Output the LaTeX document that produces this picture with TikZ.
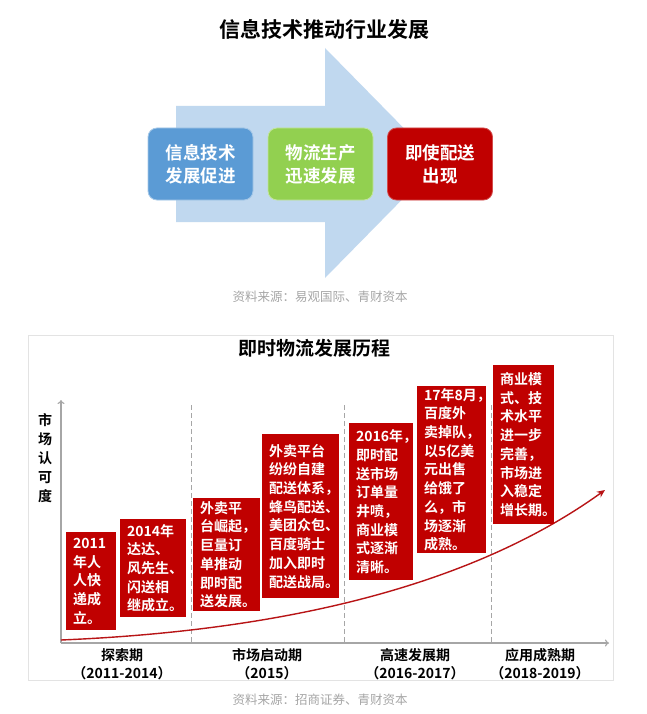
\documentclass[tikz,border=0pt]{standalone}
\usepackage{fontspec}
\setmainfont{Noto Sans CJK SC}[BoldFont={Noto Sans CJK SC Bold}]
\usetikzlibrary{arrows.meta}
\definecolor{arrowblue}{HTML}{C0D8EF}
\definecolor{boxblue}{HTML}{5B9BD5}
\definecolor{boxgreen}{HTML}{92D050}
\definecolor{boxred}{HTML}{C00000}
\definecolor{srcgray}{HTML}{A6A6A6}
\definecolor{axisgray}{HTML}{A6A6A6}
\definecolor{framegray}{HTML}{E3E3E3}
\definecolor{curvered}{HTML}{B81416}
\begin{document}
\begin{tikzpicture}[x=1pt,y=-1pt,
  tbox/.style={rounded corners=9pt, minimum width=105pt, minimum height=72pt, inner sep=0pt,
    align=center, text=white, font=\bfseries\fontsize{17.5}{23}\selectfont, line width=0.8pt},
  rbox/.style={fill=boxred, text=white, anchor=north west, align=left, inner xsep=7pt, inner ysep=0pt,
    font=\bfseries\fontsize{14}{18.7}\selectfont},
  src/.style={text=srcgray, font=\fontsize{12.5}{15}\selectfont},
  ttl/.style={font=\bfseries\fontsize{20}{24}\selectfont},
  xlab/.style={align=center, font=\bfseries\fontsize{14}{18}\selectfont},
  axis/.style={draw=axisgray, line width=1.1pt, -{To[length=4pt,width=7pt]}},
  sep/.style={draw=axisgray, line width=0.9pt, dash pattern=on 5pt off 3pt}
]
\useasboundingbox (0,0) rectangle (647,714);
\fill[white] (0,0) rectangle (647,714);

% ---------- top part ----------
\node[ttl, font=\bfseries\fontsize{21}{24}\selectfont] (t1) at (324,29) {信息技术推动行业发展};
\fill[arrowblue] (176,106) -- (325,106) -- (325,48) -- (438,163) -- (325,278) -- (325,222) -- (176,222) -- cycle;
\node[tbox, fill=boxblue, draw=boxblue!55!white] (a1) at (200.5,164) {信息技术\\发展促进};
\node[tbox, fill=boxgreen, draw=boxgreen!55!white] (a2) at (320.5,164) {物流生产\\迅速发展};
\node[tbox, fill=boxred, draw=boxred!70!white] (a3) at (440,164) {即使配送\\出现};
\node[src] (s1) at (320,297) {资料来源：易观国际、青财资本};

% ---------- bottom part ----------
\draw[framegray, line width=0.8pt] (28,335) rectangle (613,680);
\node[ttl, font=\bfseries\fontsize{19}{22}\selectfont] (t2) at (314,348) {即时物流发展历程};

\coordinate (o) at (61,643);
\coordinate (yt) at (61,400);
\coordinate (xt) at (609,643);
\draw[axis] (o) -- (yt);
\draw[axis] (o) -- (xt);

\coordinate (d1t) at (191,405); \coordinate (d1b) at (191,643);
\coordinate (d2t) at (344,405); \coordinate (d2b) at (344,643);
\coordinate (d3t) at (491,405); \coordinate (d3b) at (491,643);
\draw[sep] (d1t) -- (d1b);
\draw[sep] (d2t) -- (d2b);
\draw[sep] (d3t) -- (d3b);

\node[align=center, font=\bfseries\fontsize{14}{18.8}\selectfont] (ylab) at (45,458) {市\\场\\认\\可\\度};

\coordinate (c0) at (61,640);
\coordinate (c1) at (605,490);
\draw[curvered, line width=1.4pt, -{Stealth[length=8pt,width=7pt]}] (c0) .. controls (300,630) and (480,580) .. (c1);

\node[rbox, text width=36pt, minimum height=98pt] (b1) at (66,532) {2011\\年人\\人快\\递成\\立。};
\node[rbox, text width=52pt, minimum height=98pt] (b2) at (120,519) {2014年\\达达、\\风先生、\\闪送相\\继成立。};
\node[rbox, text width=53pt, minimum height=113pt] (b3) at (193,498) {外卖平\\台崛起，\\巨量订\\单推动\\即时配\\送发展。};
\node[rbox, text width=63pt, minimum height=164pt] (b4) at (262,434) {外卖平台\\纷纷自建\\配送体系，\\蜂鸟配送、\\美团众包、\\百度骑士\\加入即时\\配送战局。};
\node[rbox, text width=50pt, minimum height=157pt] (b5) at (349,423) {2016年，\\即时配\\送市场\\订单量\\井喷，\\商业模\\式逐渐\\清晰。};
\node[rbox, text width=55pt, minimum height=167pt] (b6) at (417,386) {17年8月，\\百度外\\卖掉队，\\以5亿美\\元出售\\给饿了\\么，市\\场逐渐\\成熟。};
\node[rbox, text width=47pt, minimum height=159pt] (b7) at (493,365) {商业模\\式、技\\术水平\\进一步\\完善，\\市场进\\入稳定\\增长期。};

\node[xlab] (x1) at (122,664) {探索期\\（2011-2014）};
\node[xlab] (x2) at (267,664) {市场启动期\\（2015）};
\node[xlab] (x3) at (415,664) {高速发展期\\（2016-2017）};
\node[xlab] (x4) at (540,664) {应用成熟期\\（2018-2019）};

\node[src] (s2) at (320,700) {资料来源：招商证券、青财资本};
\end{tikzpicture}
\end{document}
